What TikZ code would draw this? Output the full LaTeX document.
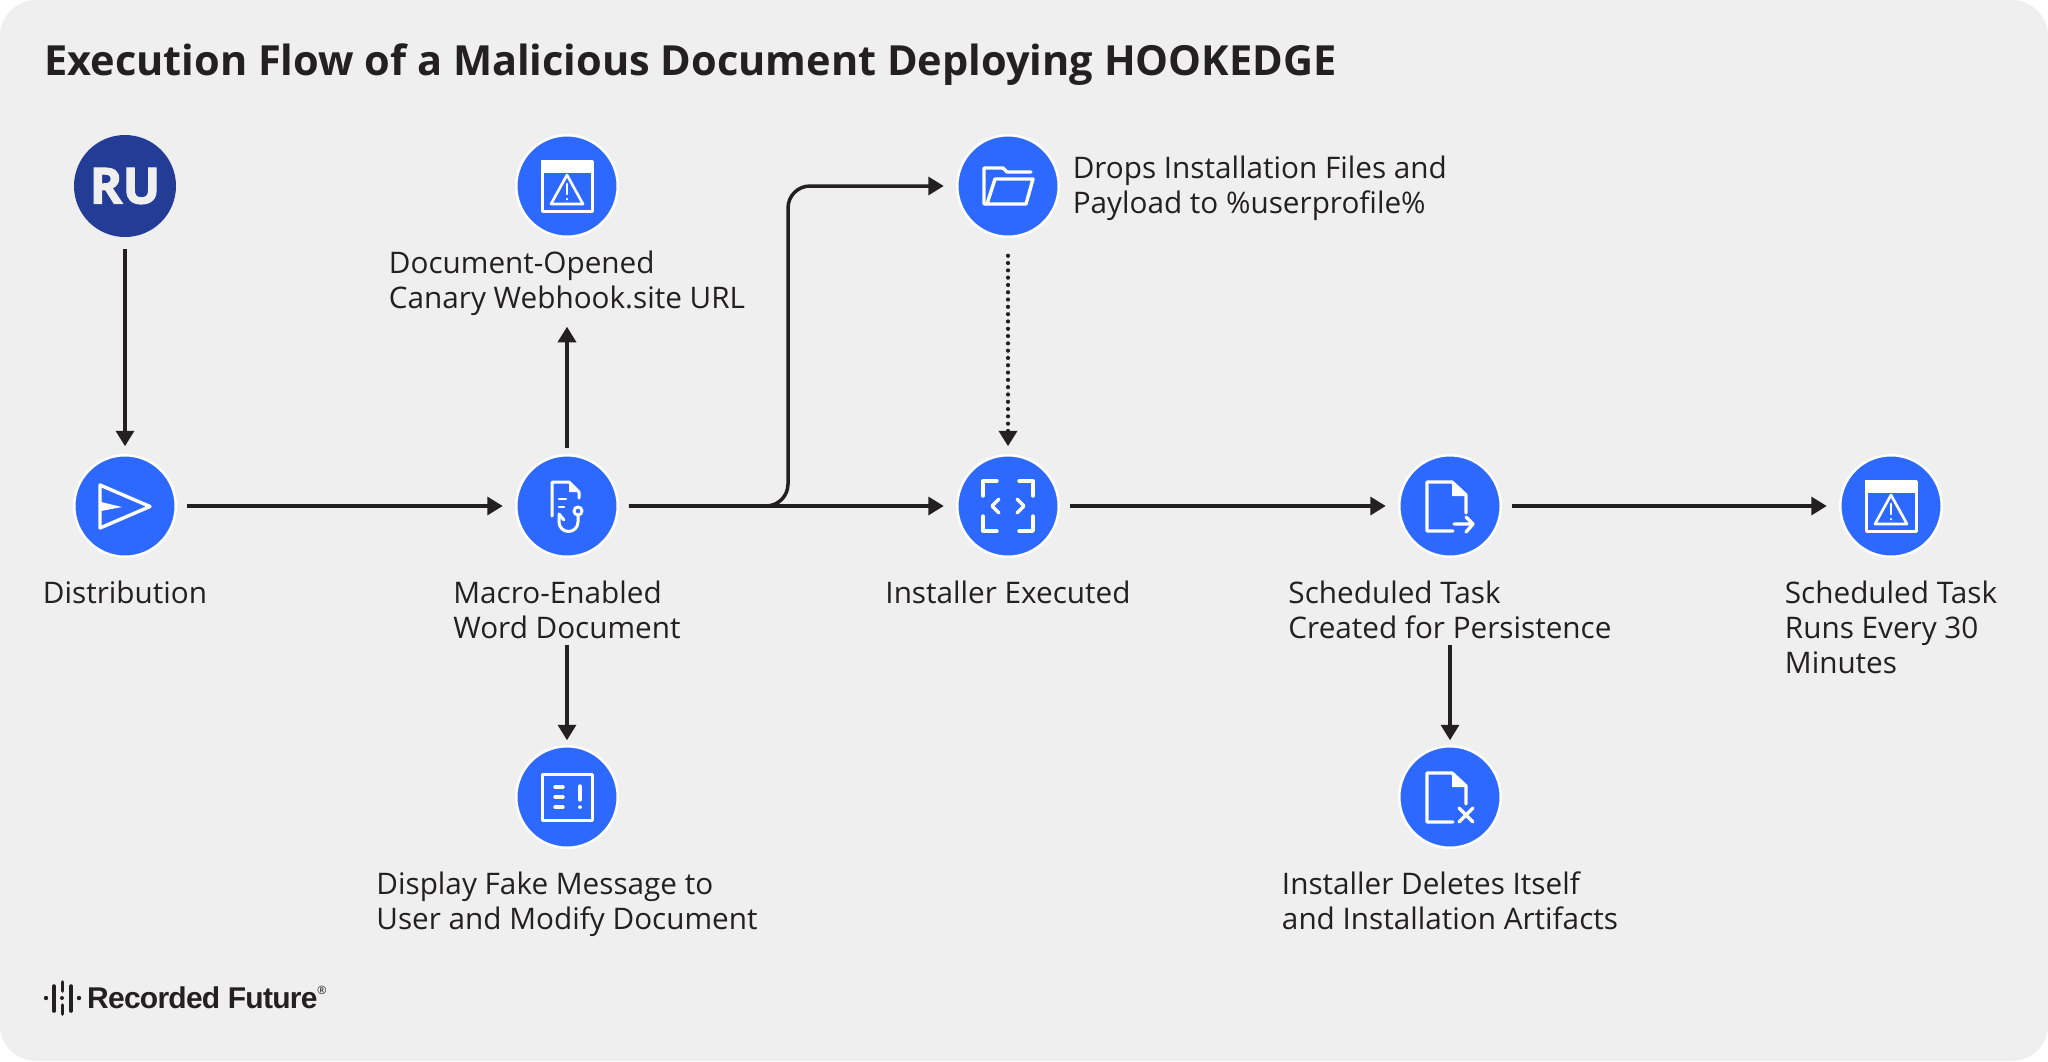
\documentclass[tikz,border=0pt]{standalone}
\usepackage{fontspec}
\setmainfont{Open Sans}
\newfontfamily\logofont[LetterSpace=-2.5]{Liberation Sans}
\newfontfamily\rufont[BoldFeatures={FakeBold=2}]{Open Sans}
\usepackage{xcolor}
\definecolor{panelgray}{RGB}{239,239,239}
\definecolor{stepblue}{RGB}{46,105,255}
\definecolor{rublue}{RGB}{35,60,150}
\definecolor{inkdark}{RGB}{34,32,33}
\usetikzlibrary{arrows.meta,positioning}

\begin{document}
\begin{tikzpicture}[x=1pt,y=-1pt,
stepnode/.style={circle,draw=white,line width=2.5pt,fill=stepblue,minimum size=101.5pt,inner sep=0pt,outer sep=11pt},
actor/.style={circle,fill=rublue,minimum size=102pt,inner sep=0pt,outer sep=11pt,text=panelgray,font=\rufont\fontsize{50}{50}\selectfont\bfseries},
lbl/.style={align=left,text=inkdark,inner sep=0pt,outer sep=0pt,font=\fontsize{29.7}{35.3}\selectfont},
flow/.style={-{Triangle[length=15.5pt,width=18pt]},line width=3.5pt,draw=inkdark},
hflow/.style={flow,shorten >=2.5pt},
vflow/.style={flow,shorten <=1pt,shorten >=-2pt},
lblflow/.style={vflow,shorten <=6pt,shorten >=-5pt},
dots/.style={flow,line cap=round,line width=4.2pt,dash pattern=on 0pt off 7.3pt,shorten <=8pt,shorten >=-2pt},
icon/.style={draw=white,line width=3.4pt,line join=round,line cap=round},
warnicon/.pic={
  \draw[icon,line width=3pt] (-25,-25) rectangle (25,25);
  \fill[white] (-26,-26) rectangle (26,-13);
  \draw[icon,line width=2.6pt] (0,-11) -- (16,18) -- (-16,18) -- cycle;
  \draw[icon,line width=2.6pt] (0,-2) -- (0,8) (0,13) -- (0,13.2);},
sendicon/.pic={
  \draw[icon] (-25,-21) -- (25,0.5) -- (-25,22) -- cycle;
  \fill[white] (-24,-4) -- (-3,1) -- (-24,5) -- cycle;},
hookicon/.pic={
  \draw[icon,line width=3pt] (-15,10) -- (-15,-24) -- (2,-24) -- (12,-14) -- (12,-8);
  \fill[white] (2,-24) -- (2,-14) -- (12,-14) -- cycle;
  \draw[icon,line width=2.6pt] (-8,-7) -- (-1,-7) (-8,1) -- (-3,1);
  \draw[icon,line width=3pt] (11,5) circle (4);
  \draw[icon,line width=3pt] (11,9) -- (11,16) arc[start angle=0,end angle=180,x radius=9.5,y radius=9.5] -- (-8,8) -- (-3,14);},
foldericon/.pic={
  \draw[icon] (23,-14) -- (-1,-14) -- (-5,-18) -- (-24,-18) -- (-24,18) -- (18,18);
  \draw[icon] (-21,18) -- (-13,-7) -- (25,-7) -- (18,18);},
codeicon/.pic={
  \draw[icon] (-25,-10) -- (-25,-25) -- (-11,-25) (11,-25) -- (25,-25) -- (25,-10)
    (25,10) -- (25,25) -- (11,25) (-11,25) -- (-25,25) -- (-25,10);
  \draw[icon] (-9,-7) -- (-16,0) -- (-9,7) (9,-7) -- (16,0) -- (9,7);},
msgicon/.pic={
  \draw[icon,line width=3pt] (-25,-23) rectangle (25,23);
  \draw[icon] (-12,-10) -- (-4,-10) (-12,0) -- (-4,0) (-12,10) -- (-4,10);
  \draw[icon] (13,-11) -- (13,3) (13,10) -- (13,10.2);},
fileicon/.pic={
  \draw[icon] (16,7) -- (16,-11) -- (2,-24) -- (-23,-24) -- (-23,25) -- (3,25);
  \fill[white] (2,-24) -- (2,-10) -- (16,-10) -- cycle;},
fileouticon/.pic={
  \pic {fileicon};
  \draw[icon] (4,18) -- (23,18) (16,11) -- (23,18) -- (16,26);},
filexicon/.pic={
  \pic {fileicon};
  \draw[icon] (9,11) -- (23,25) (23,11) -- (9,25);},
logomark/.pic={
  \fill[inkdark] (46,998) circle (2.2) (79,998) circle (2.2) (62,998) circle (2);
  \draw[inkdark,line width=3.6pt,line cap=round] (54,986) -- (54,1011) (71,986) -- (71,1011)
    (62.5,982) -- (62.5,991) (62.5,1005) -- (62.5,1014);}]
\path[fill=panelgray,rounded corners=36pt] (0,0) rectangle (2048,1061);
\node[anchor=base west,inner sep=0pt,text=inkdark,font=\fontsize{41.5}{42}\selectfont\bfseries] (title) at (44,75) {Execution Flow of a Malicious Document Deploying HOOKEDGE};

\node[actor] (ru) at (125,186) {RU};
\node[stepnode] (dist) at (125,506) {};
\node[stepnode] (mac) at (567,506) {};
\node[stepnode] (warn) at (567,186) {};
\node[stepnode] (msg) at (567,797) {};
\node[stepnode] (drop) at (1008,186) {};
\node[stepnode] (inst) at (1008,506) {};
\node[stepnode] (task) at (1450,506) {};
\node[stepnode] (del) at (1450,797) {};
\node[stepnode] (runs) at (1891,506) {};
\coordinate (branch) at (788,506);

\pic at (warn) {warnicon};
\pic at (dist) {sendicon};
\pic at (mac) {hookicon};
\pic at (msg) {msgicon};
\pic at (drop) {foldericon};
\pic at (inst) {codeicon};
\pic at (task) {fileouticon};
\pic at (del) {filexicon};
\pic at (runs) {warnicon};

\node[lbl,below=13pt of dist] (ldist) {Distribution};
\node[lbl,below=13pt of mac] (lmac) {Macro-Enabled\\Word Document};
\node[lbl,below=3pt of warn] (lwarn) {Document-Opened\\Canary Webhook.site URL};
\node[lbl,below=13pt of msg] (lmsg) {Display Fake Message to\\User and Modify Document};
\node[lbl,right=3pt of drop,yshift=-2pt] (ldrop) {Drops Installation Files and\\Payload to \%userprofile\%};
\node[lbl,below=13pt of inst] (linst) {Installer Executed};
\node[lbl,below=13pt of task] (ltask) {Scheduled Task\\Created for Persistence};
\node[lbl,below=13pt of del] (ldel) {Installer Deletes Itself\\and Installation Artifacts};
\node[lbl,below=13pt of runs] (lruns) {Scheduled Task\\Runs Every 30\\Minutes};

\draw[vflow] (ru)--(dist);
\draw[hflow] (dist)--(mac);
\draw[hflow] (mac)--(inst);
\draw[hflow] (inst)--(task);
\draw[hflow] (task)--(runs);
\draw[vflow,shorten <=-4pt,shorten >=11pt] (mac.north)--(mac.north |- lwarn.south);
\draw[lblflow] (lmac.south)--(msg.north);
\draw[lblflow] (ltask.south)--(del.north);
\draw[hflow,rounded corners=22pt] (mac.east)--(branch)|-(drop.west);
\draw[dots] (drop)--(inst);

\pic {logomark};
\node[anchor=base west,inner sep=0pt,text=inkdark,font=\logofont\fontsize{30}{30}\selectfont\bfseries] (logo) at (87,1008) {Recorded Future};
\node[anchor=center,inner sep=0pt,text=inkdark,font=\fontsize{11.5}{12}\selectfont] (reg) at (322,990) {®};
\end{tikzpicture}
\end{document}
